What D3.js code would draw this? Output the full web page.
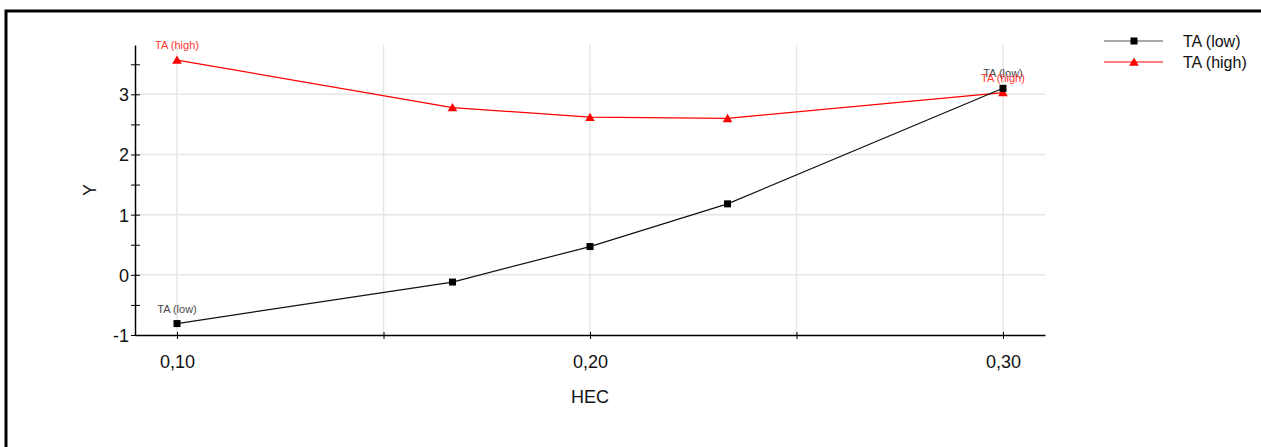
<!DOCTYPE html>
<html>
<head>
<meta charset="utf-8">
<script src="https://cdn.jsdelivr.net/npm/d3@7"></script>
<style>
  html, body { margin: 0; padding: 0; background: #fff; }
  svg { display: block; font-family: "Liberation Sans", Arial, sans-serif; }
</style>
</head>
<body>
<svg id="chart" width="1261" height="447"></svg>
<script>
// HEC values on the x axis
const hec = [0.10, 0.1667, 0.20, 0.2333, 0.30];
// Y values for each series
const taLow  = [-0.81, -0.12, 0.47, 1.18, 3.10];
const taHigh = [3.57, 2.78, 2.62, 2.60, 3.03];
const seriesNames = ["TA (low)", "TA (high)"];
// Tick values and labels
const xMajorTicks = [0.10, 0.20, 0.30];
const xAllTicks = [0.10, 0.15, 0.20, 0.25, 0.30];
const yMajorTicks = [-1, 0, 1, 2, 3];
const yAllTicks = [-1, -0.5, 0, 0.5, 1, 1.5, 2, 2.5, 3, 3.5];

const svg = d3.select("#chart");

// outer frame
svg.append("rect")
  .attr("x", 6).attr("y", 11)
  .attr("width", 1300).attr("height", 500)
  .attr("fill", "none").attr("stroke", "#000").attr("stroke-width", 3);

const plotL = 135, plotR = 1045, plotT = 45, plotB = 335;
const x = d3.scaleLinear().domain([0.08983, 0.31017]).range([plotL, plotR]);
const y = d3.scaleLinear().domain([-1, 3.82]).range([plotB, plotT]);

const comma = v => d3.format(".2f")(v).replace(".", ",");

// grid lines
const grid = svg.append("g").attr("stroke", "#e6e6e6").attr("stroke-width", 1.5);
grid.selectAll("line.v").data(xAllTicks).join("line").attr("class", "v")
  .attr("x1", d => x(d)).attr("x2", d => x(d))
  .attr("y1", plotT).attr("y2", plotB);
grid.selectAll("line.h").data(yMajorTicks.filter(d => d !== -1)).join("line").attr("class", "h")
  .attr("x1", plotL).attr("x2", plotR)
  .attr("y1", d => y(d)).attr("y2", d => y(d));

// axes
const xAxis = d3.axisBottom(x).tickValues(xAllTicks).tickSizeInner(4).tickSizeOuter(0)
  .tickFormat(d => xMajorTicks.some(t => Math.abs(t - d) < 1e-9) ? comma(d) : "");
const gx = svg.append("g").attr("transform", `translate(0,${plotB})`).call(xAxis);
gx.select(".domain").attr("stroke", "#000").attr("stroke-width", 1.5);
gx.selectAll(".tick line").attr("y1", -3).attr("y2", 4).attr("stroke", "#000");
gx.selectAll(".tick text").attr("font-size", 18).attr("fill", "#111")
  .attr("font-family", "Liberation Sans, Arial, sans-serif").attr("dy", 0).attr("y", 33);

const yAxis = d3.axisLeft(y).tickValues(yAllTicks).tickSizeInner(4).tickSizeOuter(0)
  .tickFormat(d => Number.isInteger(d) ? String(d) : "");
const gy = svg.append("g").attr("transform", `translate(${plotL},0)`).call(yAxis);
gy.select(".domain").attr("stroke", "#000").attr("stroke-width", 1.5);
gy.selectAll(".tick line").attr("x1", -4).attr("x2", 5).attr("stroke", "#000");
gy.selectAll(".tick text").attr("font-size", 18).attr("fill", "#111")
  .attr("font-family", "Liberation Sans, Arial, sans-serif").attr("x", -6).attr("dy", "0.36em");

// axis titles
svg.append("text").attr("x", (plotL + plotR) / 2).attr("y", 403)
  .attr("text-anchor", "middle").attr("font-size", 18).attr("fill", "#111").text("HEC");
svg.append("text").attr("transform", "translate(96,190) rotate(-90)")
  .attr("text-anchor", "middle").attr("font-size", 18).attr("fill", "#111").text("Y");

const line = d3.line().x(d => x(d[0])).y(d => y(d[1]));
const lowPts = hec.map((h, i) => [h, taLow[i]]);
const highPts = hec.map((h, i) => [h, taHigh[i]]);

const tri = d3.symbol().type(d3.symbolTriangle).size(40);

// TA (high)
svg.append("path").datum(highPts).attr("d", line)
  .attr("fill", "none").attr("stroke", "#ff0000").attr("stroke-width", 1.2);
svg.selectAll("path.hi").data(highPts).join("path").attr("class", "hi")
  .attr("transform", d => `translate(${x(d[0])},${y(d[1]) + 1})`)
  .attr("d", tri).attr("fill", "#ff0000");

// TA (low)
svg.append("path").datum(lowPts).attr("d", line)
  .attr("fill", "none").attr("stroke", "#111").attr("stroke-width", 1.2);
svg.selectAll("rect.lo").data(lowPts).join("rect").attr("class", "lo")
  .attr("x", d => x(d[0]) - 3.5).attr("y", d => y(d[1]) - 3.5)
  .attr("width", 7).attr("height", 7).attr("fill", "#000");

// point labels at the ends of each series
const endLabels = [
  { pt: highPts[0], name: seriesNames[1], color: "#ff2020" },
  { pt: lowPts[0], name: seriesNames[0], color: "#333" },
  { pt: lowPts[lowPts.length - 1], name: seriesNames[0], color: "#333" },
  { pt: highPts[highPts.length - 1], name: seriesNames[1], color: "#ff2020" }
];
svg.selectAll("text.pl").data(endLabels).join("text").attr("class", "pl")
  .attr("x", d => x(d.pt[0])).attr("y", d => y(d.pt[1]) - 11)
  .attr("text-anchor", "middle").attr("font-size", 11)
  .attr("fill", d => d.color).attr("opacity", 0.9).text(d => d.name);

// legend
const legend = svg.append("g").attr("transform", "translate(1104,41)");
const items = [
  { name: seriesNames[0], color: "#555", mark: "sq" },
  { name: seriesNames[1], color: "#ff0000", mark: "tri" }
];
items.forEach((it, i) => {
  const g = legend.append("g").attr("transform", `translate(0,${i * 21})`);
  g.append("line").attr("x1", 0).attr("x2", 59).attr("y1", 0).attr("y2", 0)
    .attr("stroke", it.color).attr("stroke-width", 1.2);
  if (it.mark === "sq") {
    g.append("rect").attr("x", 26.5).attr("y", -3.5).attr("width", 7).attr("height", 7).attr("fill", "#000");
  } else {
    g.append("path").attr("transform", "translate(30,1)").attr("d", tri).attr("fill", "#ff0000");
  }
  g.append("text").attr("x", 79).attr("y", 0).attr("dy", "0.36em")
    .attr("font-size", 16).attr("fill", "#111").text(it.name);
});
</script>
</body>
</html>
